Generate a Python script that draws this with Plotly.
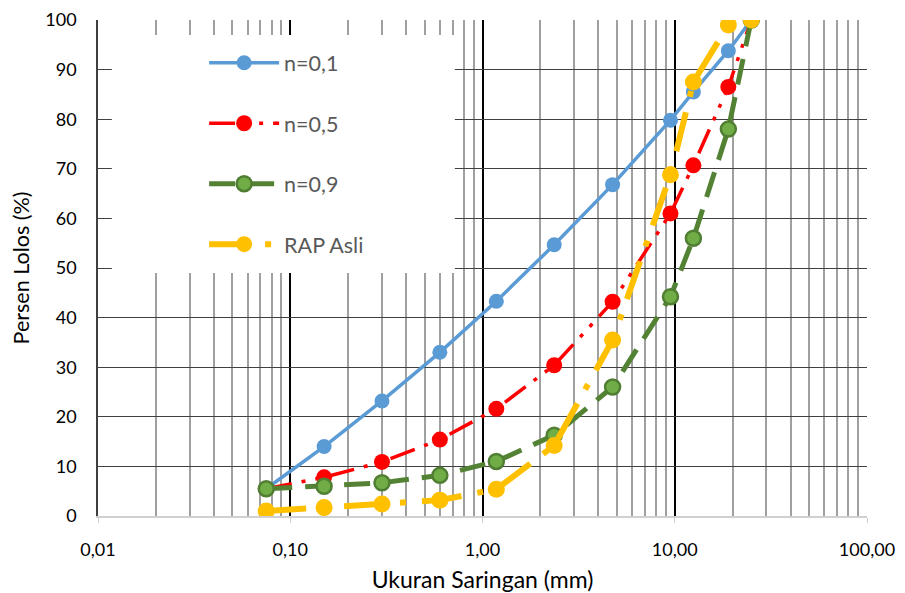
import plotly.graph_objects as go

sieve_mm = [0.075, 0.15, 0.3, 0.6, 1.18, 2.36, 4.75, 9.5, 12.5, 19, 25]
n01 = [5.5, 14.0, 23.2, 33.0, 43.3, 54.7, 66.8, 79.8, 85.5, 93.8, 100]
n05 = [5.5, 7.8, 10.9, 15.4, 21.6, 30.4, 43.2, 61.0, 70.7, 86.5, 100]
n09 = [5.5, 6.0, 6.7, 8.2, 11.0, 16.3, 26.0, 44.2, 56.0, 78.0, 100]
rap = [1.0, 1.7, 2.4, 3.2, 5.4, 14.2, 35.5, 68.8, 87.5, 99.0, 100]
names = ["n=0,1", "n=0,5", "n=0,9", "RAP Asli"]

FONT = "Lato, 'Open Sans', sans-serif"

fig = go.Figure()
fig.add_trace(go.Scatter(x=sieve_mm, y=n01, name=names[0], mode="lines+markers",
                         line=dict(color="#5B9BD5", width=3.5),
                         marker=dict(color="#5B9BD5", size=15, line=dict(width=0)),
                         legendgroup="a"))
fig.add_trace(go.Scatter(x=sieve_mm, y=n05, name=names[1], mode="lines+markers",
                         line=dict(color="#FF0000", width=3.5, dash="26px,10px,4px,10px,4px,10px"),
                         marker=dict(color="#FF0000", size=16, line=dict(width=0)),
                         legendgroup="b"))
fig.add_trace(go.Scatter(x=sieve_mm, y=n09, name=names[2], mode="lines+markers",
                         line=dict(color="#548235", width=5, dash="26px,13px"),
                         marker=dict(color="#70AD47", size=15, line=dict(width=2.5, color="#507E32")),
                         legendgroup="c"))
fig.add_trace(go.Scatter(x=sieve_mm, y=rap, name=names[3], mode="lines+markers",
                         line=dict(color="#FFC000", width=6, dash="40px,16px,6px,16px"),
                         marker=dict(color="#FFC000", size=17, line=dict(width=0)),
                         legendgroup="d"))

# white legend panel hiding the gridlines (no data falls inside it; legend is drawn on top)
fig.add_shape(type="rect", xref="paper", yref="paper", x0=0.018, x1=0.464, y0=0.49, y1=0.97,
              fillcolor="white", line=dict(width=0), layer="above")

fig.update_layout(
    width=897, height=585,
    margin=dict(l=90, r=38, t=12, b=77, autoexpand=False),
    paper_bgcolor="white", plot_bgcolor="white",
    separators=",.",
    font=dict(family=FONT, size=18, color="#000000"),
    showlegend=True,
    legend=dict(x=0.138, y=0.955, xanchor="left", yanchor="top",
                bgcolor="rgba(0,0,0,0)", font=dict(size=21.5, color="#595959"),
                tracegroupgap=29.5, itemwidth=70),
    xaxis=dict(type="log", range=[-2, 2], dtick=1, tickformat=".2f", automargin=False,
               showgrid=True, gridcolor="#000000", gridwidth=1.5,
               minor=dict(dtick="D1", showgrid=True, gridcolor="#A0A0A0", gridwidth=1.5),
               showline=True, linecolor="#D0D0D0", linewidth=1.5,
               ticks="outside", ticklen=5, tickcolor="#D0D0D0",
               ticklabelstandoff=12, zeroline=False,
               title=dict(text="Ukuran Saringan (mm)", font=dict(size=23), standoff=14)),
    yaxis=dict(range=[0, 100], dtick=10, automargin=False,
               showgrid=True, gridcolor="#404040", gridwidth=1,
               showline=True, linecolor="#404040", linewidth=1.5, zeroline=False,
               ticks="", ticklabelstandoff=16,
               title=dict(text="Persen Lolos (%)", font=dict(size=21.5), standoff=10)),
)

fig.write_html("out.html")
